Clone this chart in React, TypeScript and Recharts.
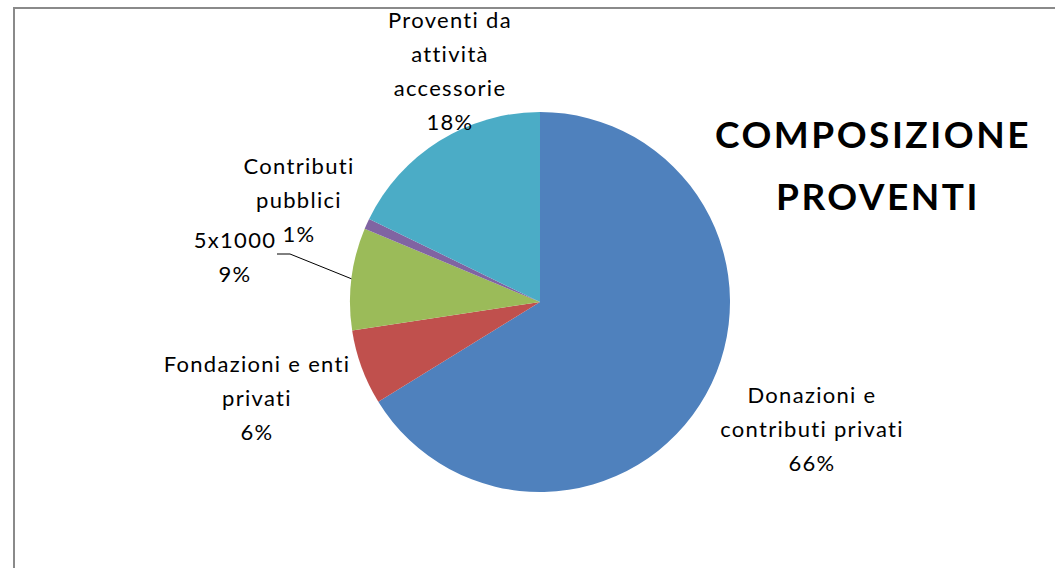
import { PieChart, Pie, Cell } from 'recharts';

const CATEGORIES = [
  'Donazioni e contributi privati',
  'Fondazioni e enti privati',
  '5x1000',
  'Contributi pubblici',
  'Proventi da attività accessorie',
];
// percent share of each source
const VALUES = [66.2, 6.4, 8.7, 0.9, 17.8];
// how the category names wrap in the data labels
const LABEL_LINES = [
  ['Donazioni e', 'contributi privati'],
  ['Fondazioni e enti', 'privati'],
  ['5x1000'],
  ['Contributi', 'pubblici'],
  ['Proventi da', 'attività', 'accessorie'],
];
const COLORS = ['#4F81BD', '#C0504D', '#9BBB59', '#8064A2', '#4BACC6'];

const data = CATEGORIES.map((name, i) => ({ name, value: VALUES[i] }));

// label block placement relative to the pie centre (first line baseline)
const LABEL_OFFSETS = [
  { dx: 272, dy: 101 },
  { dx: -283, dy: 70 },
  { dx: -305, dy: -54 },
  { dx: -241, dy: -128 },
  { dx: -90, dy: -274 },
];
const LINE_H = 34;
const FONT = 'Lato, "Noto Sans", sans-serif';

const RADIAN = Math.PI / 180;

const renderLabel = (props: any) => {
  const { cx, cy, midAngle, outerRadius, percent, index } = props;
  const off = LABEL_OFFSETS[index];
  const x = cx + off.dx;
  const y = cy + off.dy;
  const lines = [...LABEL_LINES[index], `${Math.round(percent * 100)}%`];
  let leader = null;
  if (index === 2) {
    const ex = cx + outerRadius * Math.cos(-midAngle * RADIAN);
    const ey = cy + outerRadius * Math.sin(-midAngle * RADIAN);
    leader = (
      <polyline
        points={`${x + 42},${y + 6} ${x + 55},${y + 6} ${ex},${ey}`}
        fill="none"
        stroke="#000"
        strokeWidth={1}
      />
    );
  }
  return (
    <g key={`lbl-${index}`}>
      {leader}
      <text
        x={x}
        y={y}
        textAnchor="middle"
        fill="#000"
        fontFamily={FONT}
        fontSize={22}
        letterSpacing={1.3}
        style={{ fontVariantLigatures: 'none' }}
      >
        {lines.map((l, i) => (
          <tspan key={i} x={x} y={y + i * LINE_H}>{l}</tspan>
        ))}
      </text>
    </g>
  );
};

const titleStyle = { fontVariantLigatures: 'none' as const };

const App = () => {
  return (
    <div style={{ position: 'absolute', left: 0, top: 0, width: 1055, height: 568, overflow: 'hidden', background: '#fff' }}>
      <div
        style={{
          position: 'absolute', left: 13, top: 7, width: 1100, height: 600,
          borderTop: '2px solid #8a8a8a', borderLeft: '2px solid #8a8a8a',
        }}
      />
      <div style={{ position: 'absolute', left: 0, top: 0 }}>
        <PieChart width={1055} height={568} margin={{ top: 0, right: 0, bottom: 0, left: 0 }}>
          <Pie
            data={data}
            dataKey="value"
            nameKey="name"
            cx={540}
            cy={302}
            outerRadius={190}
            startAngle={90}
            endAngle={-270}
            stroke="none"
            labelLine={false}
            label={renderLabel}
            isAnimationActive={false}
          >
            {data.map((_e, i) => (
              <Cell key={`cell-${i}`} fill={COLORS[i]} />
            ))}
          </Pie>
        </PieChart>
      </div>
      <svg width={1055} height={568} style={{ position: 'absolute', left: 0, top: 0, pointerEvents: 'none' }}>
        <text x={873} y={148} textAnchor="middle" fontFamily={FONT} fontWeight="bold" fontSize={37} letterSpacing={2.5} fill="#000" style={titleStyle}>
          COMPOSIZIONE
        </text>
        <text x={878} y={210} textAnchor="middle" fontFamily={FONT} fontWeight="bold" fontSize={37} letterSpacing={2.5} fill="#000" style={titleStyle}>
          PROVENTI
        </text>
      </svg>
    </div>
  );
};

export default App;
